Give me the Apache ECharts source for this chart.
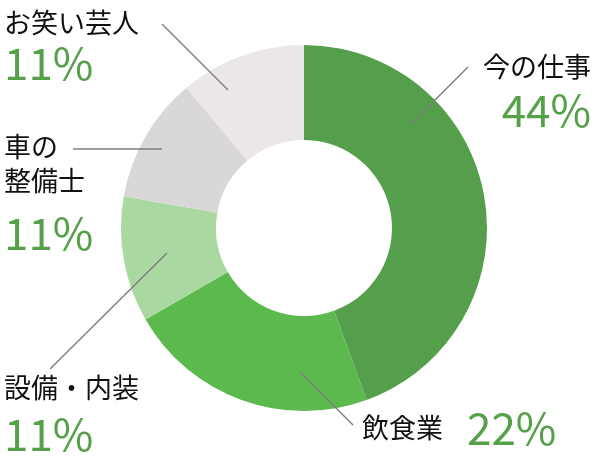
<!DOCTYPE html>
<html>
<head>
<meta charset="utf-8">
<script src="https://cdn.jsdelivr.net/npm/echarts@6/dist/echarts.min.js"></script>
<style>html,body{margin:0;padding:0;background:#fff}#c{width:600px;height:462px}</style>
</head>
<body>
<div id="c"></div>
<script>
const categories = ['今の仕事', '飲食業', '設備・内装', '車の整備士', 'お笑い芸人'];
const values = [44, 22, 11, 11, 11];
const labelTexts = ['今の仕事', '飲食業', '設備・内装', '車の\n整備士', 'お笑い芸人'];

const colors = ['#559e4b', '#5bb94e', '#a9d9a0', '#d9d8d7', '#ebe7e6'];
const labelPos = [
  {x: 591, y: 50, align: 'right', line: [[412, 123], [468, 67]]},
  {x: 362, y: 408, align: 'left', line: [[300, 372], [353, 425]]},
  {x: 4, y: 371, align: 'left', line: [[167, 253], [50, 369]]},
  {x: 4, y: 130, align: 'left', line: [[162, 149], [73, 149]]},
  {x: 4, y: 6, align: 'left', line: [[228, 90], [162, 24]]}
];
const pLine = [52, 40, 58, 70, 46];

const FONT = '"Noto Sans CJK JP", "Noto Sans", sans-serif';
const chart = echarts.init(document.getElementById('c'), null, {renderer: 'canvas'});

const data = categories.map((name, i) => {
  const pct = values[i] + '%';
  const nameLines = labelTexts[i].split('\n').map(s => '{n|' + s + '}').join('\n');
  const fmt = i === 1 ? nameLines + '{s|}{p|' + pct + '}' : nameLines + '\n{p' + i + '|' + pct + '}';
  const rich = {
    n: {fontSize: 27, lineHeight: 34, color: '#111', fontFamily: FONT},
    s: {width: 24},
    p: {fontSize: 44, lineHeight: 40, color: '#56a04a', fontFamily: FONT, fontWeight: 400}
  };
  rich['p' + i] = {fontSize: 44, lineHeight: pLine[i], color: '#56a04a', fontFamily: FONT, fontWeight: 400};
  return {
    name, value: values[i],
    itemStyle: {color: colors[i]},
    label: {formatter: fmt, rich: rich, align: labelPos[i].align}
  };
});

chart.setOption({
  animation: false,
  graphic: labelPos.map(p => ({
    type: 'polyline', z: 100, silent: true,
    shape: {points: p.line},
    style: {stroke: '#7f7f7f', lineWidth: 1.5, fill: null}
  })),
  series: [{
    type: 'pie',
    center: [304, 228],
    radius: [88, 183],
    startAngle: 90,
    clockwise: true,
    avoidLabelOverlap: false,
    label: {show: true, position: 'outside'},
    labelLine: {show: false},
    labelLayout: function (params) {
      const p = labelPos[params.dataIndex];
      return {x: p.x, y: p.y, align: p.align, verticalAlign: 'top'};
    },
    emphasis: {disabled: true},
    data: data
  }]
});
</script>
</body>
</html>
